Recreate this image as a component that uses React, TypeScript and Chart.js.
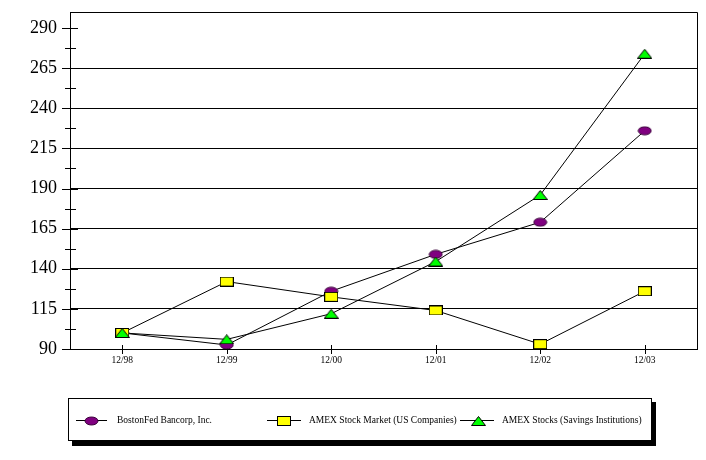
import React, { useEffect, useRef } from 'react';
import { Chart, registerables } from 'chart.js';

Chart.register(...registerables);

const categories = ['12/98', '12/99', '12/00', '12/01', '12/02', '12/03'];
const bostonFed = [100, 92.5, 126, 149, 169, 226];
const amexMarket = [100, 132, 122.5, 114, 93, 126];
const amexSavings = [100, 96, 112, 144.5, 186, 274];
const seriesNames = ['BostonFed Bancorp, Inc.', 'AMEX Stock Market (US Companies)', 'AMEX Stocks (Savings Institutions)'];
const yMin = 90;
const yMax = 300;
const yLabelMax = 290;
const majorStep = 25;
const minorStep = 12.5;
const gridValues = [115, 140, 165, 190, 215, 240, 265];

const FONT = "'Liberation Serif', 'Times New Roman', serif";

function makeMarker(kind: string): HTMLCanvasElement {
  const c = document.createElement('canvas');
  const g = c.getContext('2d') as CanvasRenderingContext2D;
  if (kind === 'ellipse') {
    c.width = 15; c.height = 10;
    g.beginPath();
    g.ellipse(7.5, 5, 6.5, 4, 0, 0, Math.PI * 2);
    g.fillStyle = '#800080';
    g.fill();
    g.strokeStyle = '#3a003a';
    g.lineWidth = 1;
    g.stroke();
  } else if (kind === 'rect') {
    c.width = 14; c.height = 10;
    g.fillStyle = '#ffff00';
    g.fillRect(0.5, 0.5, 13, 9);
    g.strokeStyle = '#000';
    g.lineWidth = 1;
    g.strokeRect(0.5, 0.5, 13, 9);
  } else {
    c.width = 15; c.height = 10;
    g.beginPath();
    g.moveTo(7.5, 0.5);
    g.lineTo(14.5, 9.5);
    g.lineTo(0.5, 9.5);
    g.closePath();
    g.fillStyle = '#00ff00';
    g.fill();
    g.strokeStyle = '#000';
    g.lineWidth = 1;
    g.stroke();
  }
  return c;
}

export default function App() {
  const ref = useRef<HTMLCanvasElement | null>(null);

  useEffect(() => {
    const canvas = ref.current;
    if (!canvas) return;
    const ellipse = makeMarker('ellipse');
    const rect = makeMarker('rect');
    const tri = makeMarker('tri');
    const markers = [ellipse, rect, tri];

    const framePlugin = {
      id: 'frameTicks',
      beforeDatasetsDraw(chart: any) {
        const { ctx, chartArea: a, scales } = chart;
        const x = scales.x;
        const y = scales.y;
        ctx.save();
        ctx.strokeStyle = '#000';
        ctx.lineWidth = 1;
        ctx.beginPath();
        const L = Math.round(a.left) + 0.5;
        const T = Math.round(a.top) + 0.5;
        const R = Math.round(a.right) + 0.5;
        const B = Math.round(a.bottom) + 0.5;
        ctx.moveTo(L, T);
        ctx.lineTo(R, T);
        ctx.lineTo(R, B);
        ctx.stroke();
        for (let v = yMin; v <= yLabelMax; v += minorStep) {
          const py = Math.round(y.getPixelForValue(v)) + 0.5;
          const major = (v - yMin) % majorStep === 0;
          ctx.beginPath();
          if (major) {
            ctx.moveTo(a.left - 8, py);
            ctx.lineTo(a.left + 8, py);
          } else {
            ctx.moveTo(a.left - 5, py);
            ctx.lineTo(a.left + 6, py);
          }
          ctx.stroke();
        }
        for (let i = 0; i < categories.length; i++) {
          const px = Math.round(x.getPixelForTick(i)) + 0.5;
          ctx.beginPath();
          ctx.moveTo(px, a.bottom - 4);
          ctx.lineTo(px, a.bottom + 5);
          ctx.stroke();
        }
        ctx.restore();
      },
      afterDraw(chart: any) {
        const { ctx } = chart;
        ctx.save();
        ctx.fillStyle = '#000';
        ctx.fillRect(72, 402, 584, 44);
        ctx.fillStyle = '#fff';
        ctx.fillRect(68, 398, 584, 43);
        ctx.strokeStyle = '#000';
        ctx.lineWidth = 1;
        ctx.strokeRect(68.5, 398.5, 583, 42);
        const items = [
          { from: 76, to: 107, cx: 91, tx: 117 },
          { from: 267, to: 301, cx: 284, tx: 309 },
          { from: 460, to: 494, cx: 478, tx: 502 },
        ];
        const cy = 420;
        ctx.font = `9.5px ${FONT}`;
        ctx.textBaseline = 'middle';
        ctx.textAlign = 'left';
        items.forEach((it, i) => {
          ctx.beginPath();
          ctx.moveTo(it.from, cy + 0.5);
          ctx.lineTo(it.to, cy + 0.5);
          ctx.stroke();
          const m = markers[i];
          ctx.drawImage(m, Math.round(it.cx - m.width / 2), Math.round(cy - m.height / 2) + 1);
          ctx.fillStyle = '#000';
          ctx.fillText(seriesNames[i], it.tx, cy);
        });
        ctx.restore();
      },
    };

    const series = [bostonFed, amexMarket, amexSavings];
    const lineSets = series.map((d, i) => ({
      label: seriesNames[i] + ' line',
      data: d,
      borderColor: '#000',
      borderWidth: 1,
      pointRadius: 0,
      showLine: true,
      tension: 0,
      order: 10 + i,
    }));
    const pointOrders = [2, 1, 0];
    const pointSets = series.map((d, i) => ({
      label: seriesNames[i],
      data: d,
      showLine: false,
      pointStyle: markers[i],
      pointRadius: 5,
      order: pointOrders[i],
    }));

    const yTickValues: number[] = [];
    for (let v = yMin; v <= yLabelMax; v += minorStep) yTickValues.push(v);

    const chart = new Chart(canvas, {
      type: 'line',
      data: { labels: categories, datasets: [...lineSets, ...pointSets] as any },
      options: {
        animation: false,
        responsive: false,
        devicePixelRatio: 1,
        layout: { padding: { left: 0, right: 9, top: 12, bottom: 0 } },
        plugins: { legend: { display: false }, tooltip: { enabled: false } },
        scales: {
          x: {
            type: 'category',
            offset: true,
            grid: { display: false, drawTicks: false },
            border: { display: true, color: '#000', width: 1 },
            ticks: { color: '#000', font: { family: FONT, size: 9.5 }, padding: 6, maxRotation: 0, autoSkip: false },
            afterFit: (s: any) => {
              s.height = 111;
              s.paddingLeft = 0; s.paddingRight = 0; s.paddingTop = 0; s.paddingBottom = 0;
            },
          },
          y: {
            min: yMin,
            max: yMax,
            afterBuildTicks: (s: any) => { s.ticks = yTickValues.map((v) => ({ value: v })); },
            grid: {
              drawTicks: false,
              color: (c: any) => (gridValues.includes(c.tick?.value) ? '#000' : 'rgba(0,0,0,0)'),
              lineWidth: 1,
            },
            border: { display: true, color: '#000', width: 1 },
            ticks: {
              autoSkip: false,
              padding: 13,
              color: '#000',
              font: { family: FONT, size: 18 },
              callback: (v: any) => {
                const n = Number(v);
                return (n - yMin) % majorStep === 0 && n <= yLabelMax ? String(n) : '';
              },
            },
            afterFit: (s: any) => {
              s.width = 70;
              s.paddingLeft = 0; s.paddingRight = 0; s.paddingTop = 0; s.paddingBottom = 0;
            },
          },
        },
      },
      plugins: [framePlugin],
    });
    return () => chart.destroy();
  }, []);

  return (
    <div style={{ position: 'fixed', left: 0, top: 0, width: 706, height: 460, background: '#fff' }}>
      <canvas ref={ref} width={706} height={460} style={{ width: 706, height: 460, display: 'block' }} />
    </div>
  );
}
